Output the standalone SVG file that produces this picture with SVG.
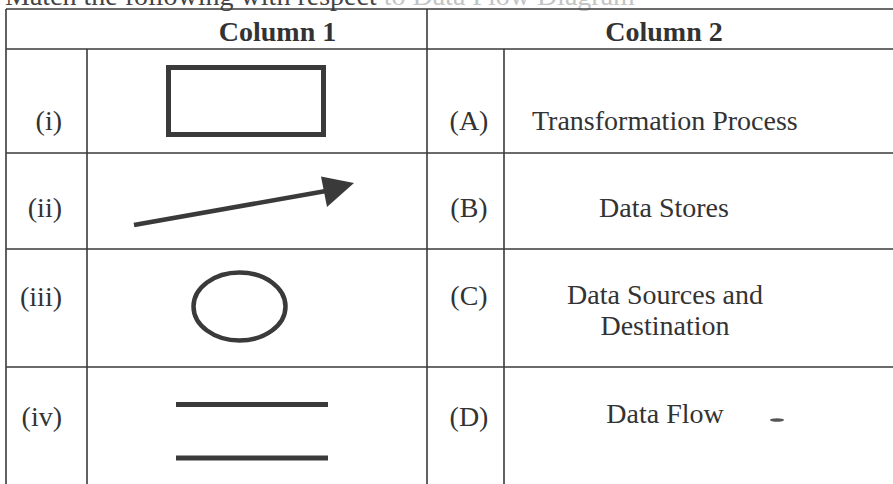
<svg xmlns="http://www.w3.org/2000/svg" width="893" height="484" viewBox="0 0 893 484">
<style>
  .grid line { stroke: #3a3a3a; stroke-width: 1.6; }
  .t { font-family: "Liberation Serif", "Times New Roman", serif; font-size: 28px; fill: #333; }
  .h { font-family: "Liberation Serif", "Times New Roman", serif; font-size: 28px; font-weight: bold; fill: #333; }
  .sym { stroke: #3a3a3a; fill: none; }
</style>
<rect width="893" height="484" fill="#ffffff"/>
<text id="title" class="t" x="5" y="4.5" font-size="27"><tspan fill="#444">Match the following with respect</tspan><tspan fill="#c4c4c4"> to Data Flow Diagram</tspan></text>

<g id="grid" class="grid">
  <line x1="6" y1="9" x2="893" y2="9"/>
  <line x1="6" y1="49" x2="893" y2="49"/>
  <line x1="6" y1="153" x2="893" y2="153"/>
  <line x1="6" y1="249" x2="893" y2="249"/>
  <line x1="6" y1="367" x2="893" y2="367"/>
  <line x1="6" y1="9" x2="6" y2="484"/>
  <line x1="87" y1="49" x2="87" y2="484"/>
  <line x1="427" y1="9" x2="427" y2="484"/>
  <line x1="504" y1="49" x2="504" y2="484"/>
</g>

<g id="header">
  <text class="h" x="277.5" y="41" text-anchor="middle">Column 1</text>
  <text class="h" x="664" y="41" text-anchor="middle">Column 2</text>
</g>

<g id="row1">
  <text class="t" x="62" y="130" text-anchor="end">(i)</text>
  <rect id="sym-rect" class="sym" x="168.5" y="67.5" width="155" height="67" stroke-width="5"/>
  <text class="t" x="469" y="130" text-anchor="middle">(A)</text>
  <text class="t" x="532" y="130">Transformation Process</text>
</g>

<g id="row2">
  <text class="t" x="62" y="217" text-anchor="end">(ii)</text>
  <g id="sym-arrow">
    <line class="sym" x1="134" y1="225" x2="326" y2="191" stroke-width="4.5"/>
    <polygon points="354,183 321,176.5 327,207" fill="#3a3a3a"/>
  </g>
  <text class="t" x="469" y="217" text-anchor="middle">(B)</text>
  <text class="t" x="664" y="217" text-anchor="middle">Data Stores</text>
</g>

<g id="row3">
  <text class="t" x="62" y="306" text-anchor="end">(iii)</text>
  <ellipse id="sym-ellipse" class="sym" cx="239.5" cy="306.5" rx="46" ry="34" stroke-width="4.5"/>
  <text class="t" x="469" y="305" text-anchor="middle">(C)</text>
  <text class="t" x="665" y="304" text-anchor="middle">Data Sources and</text>
  <text class="t" x="665" y="335" text-anchor="middle">Destination</text>
</g>

<g id="row4">
  <text class="t" x="62" y="426" text-anchor="end">(iv)</text>
  <g id="sym-store">
    <line class="sym" x1="176" y1="404.5" x2="328" y2="404.5" stroke-width="5"/>
    <line class="sym" x1="176" y1="458" x2="328" y2="458" stroke-width="5"/>
  </g>
  <text class="t" x="469" y="426" text-anchor="middle">(D)</text>
  <text class="t" x="665" y="423" text-anchor="middle">Data Flow</text>
  <ellipse cx="777" cy="420" rx="7" ry="1.8" fill="#555"/>
</g>
</svg>
